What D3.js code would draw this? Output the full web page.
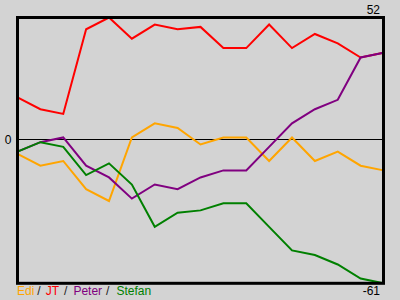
<!DOCTYPE html>
<html>
<head>
<meta charset="utf-8">
<script src="https://cdn.jsdelivr.net/npm/d3@7"></script>
<style>
  body { margin: 0; background: #d3d3d3; }
  svg { display: block; font-family: "Liberation Sans", Arial, sans-serif; }
</style>
</head>
<body>
<div id="container"></div>
<script>
/* CONSTANTS AND GLOBALS */
const width = 400,
  height = 300,
  margin = { top: 17.5, bottom: 16.7, left: 17.5, right: 16.5 }

/* DATA */
const rounds = [1, 2, 3, 4, 5, 6, 7, 8, 9, 10, 11, 12, 13, 14, 15, 16, 17];
const players = ["Edi", "JT", "Peter", "Stefan"];
const colors = ["orange", "red", "purple", "green"];
const edi = [-6, -11, -9, -21, -26, 1, 7, 5, -2, 1, 1, -9, 1, -9, -5, -11, -13];
const jt = [18, 13, 11, 47, 52, 43, 49, 47, 48, 39, 39, 49, 39, 45, 41, 35, 37];
const peter = [-5, -1, 1, -11, -16, -25, -19, -21, -16, -13, -13, -3, 7, 13, 17, 35, 37];
const stefan = [-5, -1, -3, -15, -10, -19, -37, -31, -30, -27, -27, -37, -47, -49, -53, -59, -61];

const series = [edi, jt, peter, stefan].map((values, i) => ({
  name: players[i],
  color: colors[i],
  values: values.map((v, j) => ({ round: rounds[j], value: v }))
}));

const allValues = [].concat(edi, jt, peter, stefan);
const maxV = d3.max(allValues), minV = d3.min(allValues);

// SCALES
const xScale = d3.scaleLinear()
  .domain(d3.extent(rounds))
  .range([margin.left, width - margin.right])

const yScale = d3.scaleLinear()
  .domain([minV, maxV])
  .range([height - margin.bottom, margin.top])

// CREATE SVG ELEMENT
const svg = d3.select("#container")
  .append("svg")
  .attr("width", width)
  .attr("height", height)

svg.append("rect")
  .attr("width", width)
  .attr("height", height)
  .attr("fill", "#d3d3d3")

// ZERO LINE
const y0 = Math.round(yScale(0)) - 0.5;
svg.append("line")
  .attr("x1", margin.left)
  .attr("x2", width - margin.right)
  .attr("y1", y0)
  .attr("y2", y0)
  .attr("stroke", "black")
  .attr("stroke-width", 1)

// DRAW LINES
const line = d3.line()
  .x(d => xScale(d.round))
  .y(d => yScale(d.value));

svg.selectAll(".series")
  .data(series)
  .join("path")
  .attr("class", "series")
  .attr("fill", "none")
  .attr("stroke", d => d.color)
  .attr("stroke-width", 2)
  .attr("d", d => line(d.values));

// FRAME
svg.append("rect")
  .attr("x", margin.left)
  .attr("y", margin.top)
  .attr("width", width - margin.left - margin.right)
  .attr("height", height - margin.top - margin.bottom)
  .attr("fill", "none")
  .attr("stroke", "black")
  .attr("stroke-width", 3)

// VALUE LABELS
svg.append("text")
  .attr("x", 380)
  .attr("y", 14)
  .attr("text-anchor", "end")
  .attr("font-size", 12)
  .text(maxV)

svg.append("text")
  .attr("x", 380)
  .attr("y", 295)
  .attr("text-anchor", "end")
  .attr("font-size", 12)
  .text(minV)

svg.append("text")
  .attr("x", 11.5)
  .attr("y", y0 + 4)
  .attr("text-anchor", "end")
  .attr("font-size", 12)
  .text(0)

// LEGEND
const legend = svg.append("text")
  .attr("x", 17)
  .attr("y", 295)
  .attr("font-size", 12)
  .attr("xml:space", "preserve")

const gaps = [0, 5, 6, 7];
series.forEach((s, i) => {
  if (i > 0) {
    legend.append("tspan")
      .attr("dx", i === 1 ? 3 : i === 2 ? 5 : 4)
      .attr("fill", "#222")
      .text("/");
  }
  legend.append("tspan")
    .attr("dx", gaps[i])
    .attr("fill", s.color)
    .text(s.name);
});
</script>
</body>
</html>
